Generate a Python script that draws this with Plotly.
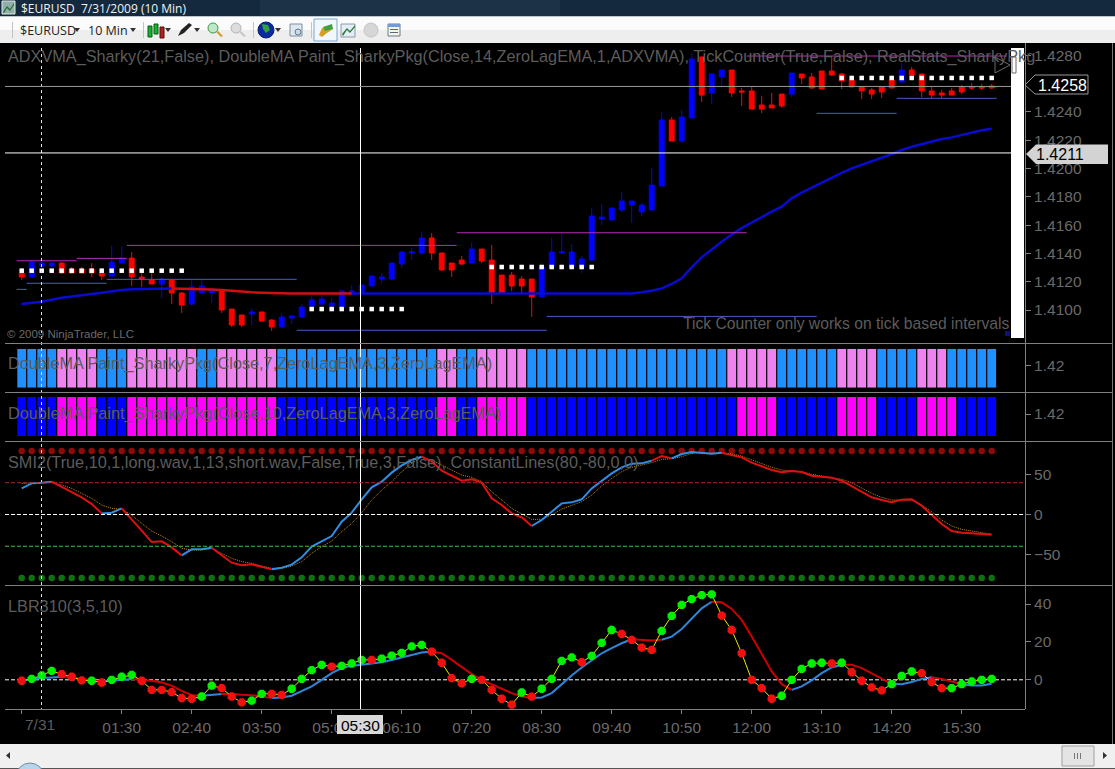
from __future__ import annotations

import plotly.graph_objects as go

WIDTH = 1115
HEIGHT = 769
FONT = "Liberation Sans"
TEXT_GREY = "#5c5c5c"
AXIS_GREY = "#808080"

open_price = [
    1.41261, 1.41233, 1.41311, 1.41311, 1.41332, 1.41290, 1.41290, 1.41290, 1.41261, 1.41240,
    1.41332, 1.41367, 1.41233, 1.41212, 1.41184, 1.41212, 1.41120, 1.41042, 1.41120, 1.41120,
    1.41141, 1.41007, 1.40965, 1.40972, 1.40986, 1.40929, 1.40880, 1.40943, 1.40951, 1.41028,
    1.41042, 1.41028, 1.41021, 1.41113, 1.41120, 1.41170, 1.41219, 1.41219, 1.41325, 1.41403,
    1.41403, 1.41509, 1.41403, 1.41332, 1.41353, 1.41332, 1.41431, 1.41353, 1.41247, 1.41247,
    1.41219, 1.41219, 1.41092, 1.41304, 1.41403, 1.41304, 1.41304, 1.41353, 1.41643, 1.41636,
    1.41707, 1.41742, 1.41693, 1.41707, 1.41876, 1.42343, 1.42194, 1.42357, 1.42788, 1.42534,
    1.42647, 1.42696, 1.42548, 1.42548, 1.42449, 1.42449, 1.42526, 1.42526, 1.42668, 1.42647,
    1.42689, 1.42689, 1.42668, 1.42625, 1.42576, 1.42555, 1.42576, 1.42625, 1.42611, 1.42696,
    1.42668, 1.42548, 1.42534, 1.42548, 1.42576, 1.42576, 1.42576, 1.42583,
]
high_price = [
    1.41297, 1.41353, 1.41353, 1.41339, 1.41339, 1.41304, 1.41304, 1.41332, 1.41297, 1.41452,
    1.41452, 1.41410, 1.41269, 1.41261, 1.41233, 1.41212, 1.41127, 1.41219, 1.41212, 1.41155,
    1.41148, 1.41007, 1.40965, 1.41014, 1.40986, 1.40936, 1.40979, 1.40965, 1.41042, 1.41099,
    1.41099, 1.41085, 1.41141, 1.41177, 1.41177, 1.41247, 1.41261, 1.41332, 1.41410, 1.41438,
    1.41551, 1.41544, 1.41403, 1.41332, 1.41382, 1.41481, 1.41431, 1.41459, 1.41247, 1.41269,
    1.41240, 1.41219, 1.41332, 1.41509, 1.41544, 1.41466, 1.41382, 1.41721, 1.41749, 1.41721,
    1.41834, 1.41770, 1.41756, 1.42004, 1.42399, 1.42364, 1.42413, 1.42816, 1.42788, 1.42668,
    1.42696, 1.42696, 1.42569, 1.42576, 1.42512, 1.42534, 1.42526, 1.42675, 1.42668, 1.42675,
    1.42689, 1.42788, 1.42675, 1.42632, 1.42576, 1.42569, 1.42576, 1.42625, 1.42746, 1.42717,
    1.42668, 1.42576, 1.42555, 1.42569, 1.42590, 1.42604, 1.42597, 1.42597,
]
low_price = [
    1.41212, 1.41233, 1.41304, 1.41304, 1.41254, 1.41254, 1.41254, 1.41233, 1.41212, 1.41240,
    1.41332, 1.41170, 1.41163, 1.41184, 1.41085, 1.41042, 1.40979, 1.41035, 1.41113, 1.41049,
    1.40979, 1.40880, 1.40880, 1.40894, 1.40915, 1.40852, 1.40873, 1.40901, 1.40943, 1.41021,
    1.41042, 1.41021, 1.41021, 1.41106, 1.41106, 1.41170, 1.41184, 1.41212, 1.41297, 1.41353,
    1.41389, 1.41353, 1.41276, 1.41233, 1.41318, 1.41332, 1.41332, 1.41042, 1.41120, 1.41134,
    1.41120, 1.40951, 1.41092, 1.41304, 1.41403, 1.41304, 1.41261, 1.41346, 1.41601, 1.41629,
    1.41693, 1.41615, 1.41664, 1.41707, 1.41876, 1.42194, 1.42180, 1.42357, 1.42470, 1.42456,
    1.42576, 1.42505, 1.42442, 1.42420, 1.42392, 1.42428, 1.42428, 1.42505, 1.42597, 1.42562,
    1.42562, 1.42654, 1.42562, 1.42576, 1.42491, 1.42491, 1.42498, 1.42569, 1.42611, 1.42661,
    1.42505, 1.42498, 1.42498, 1.42519, 1.42526, 1.42555, 1.42555, 1.42562,
]
close_price = [
    1.41233, 1.41339, 1.41332, 1.41332, 1.41261, 1.41261, 1.41261, 1.41261, 1.41240, 1.41339,
    1.41367, 1.41233, 1.41219, 1.41184, 1.41219, 1.41120, 1.41035, 1.41163, 1.41170, 1.41141,
    1.41000, 1.40894, 1.40894, 1.40986, 1.40922, 1.40880, 1.40951, 1.40958, 1.41021, 1.41071,
    1.41078, 1.41049, 1.41134, 1.41134, 1.41177, 1.41240, 1.41233, 1.41332, 1.41410, 1.41410,
    1.41509, 1.41403, 1.41283, 1.41283, 1.41325, 1.41431, 1.41346, 1.41120, 1.41120, 1.41170,
    1.41170, 1.41092, 1.41304, 1.41410, 1.41410, 1.41410, 1.41360, 1.41664, 1.41657, 1.41721,
    1.41770, 1.41770, 1.41742, 1.41883, 1.42343, 1.42194, 1.42364, 1.42774, 1.42519, 1.42668,
    1.42696, 1.42534, 1.42541, 1.42420, 1.42420, 1.42428, 1.42442, 1.42675, 1.42640, 1.42569,
    1.42562, 1.42661, 1.42618, 1.42576, 1.42548, 1.42526, 1.42541, 1.42569, 1.42696, 1.42661,
    1.42548, 1.42519, 1.42519, 1.42519, 1.42541, 1.42569, 1.42569, 1.42569,
]
bars = list(range(len(close_price)))

adxvma = [
    1.41042, 1.41049, 1.41059, 1.41072, 1.41087, 1.41095, 1.41106, 1.41113, 1.41122, 1.41134,
    1.41141, 1.41146, 1.41148, 1.41151, 1.41153, 1.41153, 1.41152, 1.41151, 1.41148, 1.41145,
    1.41141, 1.41134, 1.41129, 1.41125, 1.41122, 1.41119, 1.41117, 1.41117, 1.41117, 1.41117,
    1.41117, 1.41117, 1.41117, 1.41117, 1.41117, 1.41117, 1.41117, 1.41117, 1.41117, 1.41117,
    1.41117, 1.41117, 1.41117, 1.41117, 1.41117, 1.41117, 1.41117, 1.41117, 1.41117, 1.41117,
    1.41117, 1.41117, 1.41117, 1.41117, 1.41117, 1.41117, 1.41117, 1.41117, 1.41117, 1.41117,
    1.41117, 1.41117, 1.41125, 1.41136, 1.41153, 1.41184, 1.41224, 1.41302, 1.41372, 1.41429,
    1.41483, 1.41534, 1.41579, 1.41617, 1.41659, 1.41695, 1.41730, 1.41789, 1.41829, 1.41864,
    1.41900, 1.41938, 1.41970, 1.42001, 1.42025, 1.42048, 1.42076, 1.42102, 1.42131, 1.42154,
    1.42173, 1.42189, 1.42208, 1.42220, 1.42237, 1.42256, 1.42270, 1.42281,
]
adxvma_red_runs = [(15, 33)]
adxvma_blue_runs = [(0, 15), (33, 97)]

# first bar, last bar, price
high_levels = [(-0.5, 5.5, 1.41348), (5.5, 10.5, 1.41365), (10.5, 43.5, 1.41457),
               (43.5, 72.5, 1.41546), (72.5, 98.5, 1.42795)]
low_levels = [(-0.5, 0.5, 1.41146), (0.5, 8.5, 1.41189), (8.5, 27.5, 1.41217),
              (27.5, 52.5, 1.40857), (52.5, 79.5, 1.40955), (79.5, 87.5, 1.42390),
              (87.5, 97.5, 1.42496)]
stat_dots = [(0, 16, 1.41278), (29, 38, 1.41007), (47, 57, 1.41304), (82, 97, 1.42640)]

last_price = 1.4258
cross_price = 1.4211
price_ticks = [1.4100, 1.4120, 1.4140, 1.4160, 1.4180, 1.4200, 1.4220, 1.4240, 1.4280]

fast_paint_runs = [(4, "up"), (4, "down"), (3, "up"), (7, "down"), (2, "up"), (6, "down"), (16, "up"),
                   (2, "down"), (2, "up"), (5, "down"), (20, "up"), (5, "down"), (6, "up"), (4, "down"),
                   (4, "up"), (3, "down"), (5, "up")]
slow_paint_runs = [(4, "up"), (4, "down"), (3, "up"), (15, "down"), (16, "up"), (2, "down"), (2, "up"),
                   (5, "down"), (21, "up"), (4, "down"), (6, "up"), (4, "down"), (4, "up"), (4, "down"),
                   (4, "up")]
paint_base = 1.4156
paint_height = 0.0078

smi_main = [
    32.9, 39.2, 40.1, 41.3, 35.0, 28.7, 21.6, 13.2, 1.4, 2.3,
    7.7, -7.0, -20.4, -34.7, -33.8, -41.4, -51.5, -43.9, -43.9, -41.8,
    -51.0, -60.7, -64.0, -62.8, -65.7, -69.1, -67.0, -63.2, -54.0, -40.5,
    -33.4, -27.1, -9.1, 2.3, 19.1, 34.2, 41.3, 52.7, 61.9, 68.6,
    72.8, 66.5, 55.2, 48.5, 42.6, 44.3, 40.1, 20.3, 11.9, 1.4,
    -3.6, -14.5, -7.0, 3.5, 14.0, 15.3, 19.1, 32.9, 42.6, 51.8,
    59.4, 64.0, 64.4, 67.8, 73.6, 70.7, 76.2, 78.7, 77.8, 76.6,
    77.8, 75.3, 72.0, 65.3, 60.2, 56.0, 53.1, 54.8, 53.5, 48.9,
    47.6, 46.4, 42.6, 35.9, 28.7, 21.6, 18.2, 15.3, 18.7, 19.1,
    11.1, -0.7, -12.0, -20.8, -22.9, -23.7, -24.2, -25.4,
]
smi_signal = [
    39.2, 40.1, 40.1, 40.1, 37.1, 32.9, 26.6, 20.3, 11.9, 7.7,
    6.5, -0.7, -11.2, -20.8, -27.1, -34.2, -42.6, -44.7, -44.7, -42.6,
    -48.9, -55.2, -59.4, -61.5, -64.9, -67.8, -67.8, -64.9, -59.4, -48.9,
    -40.5, -33.4, -21.6, -11.2, 2.3, 18.2, 30.8, 41.3, 53.9, 64.4,
    72.0, 68.6, 62.3, 56.0, 49.7, 46.8, 41.3, 28.7, 18.2, 7.7,
    0.6, -6.1, -6.1, -0.7, 6.9, 11.1, 16.1, 24.5, 35.9, 45.5,
    53.9, 59.4, 62.3, 65.3, 69.5, 70.3, 72.8, 77.0, 77.8, 77.0,
    77.8, 76.2, 73.6, 68.6, 63.6, 59.4, 56.0, 55.2, 53.9, 50.6,
    48.5, 46.8, 44.3, 40.1, 32.9, 26.6, 21.6, 18.2, 18.2, 18.2,
    11.9, 3.5, -7.0, -14.5, -18.7, -21.2, -22.9, -24.6,
]
smi_up_runs = [(0, 3), (8, 10), (16, 19), (25, 40), (51, 63), (65, 70)]
smi_down_runs = [(3, 8), (10, 16), (19, 25), (40, 51), (63, 65), (70, 97)]
smi_upper_dots = [80] * len(bars)
smi_lower_dots = [-80] * len(bars)
smi_ticks = [-50, 0, 50]

lbr_fast = [
    -0.5, 0.5, 2.3, 4.7, 3.0, 1.6, -0.3, -0.5, -1.4, 0.0,
    1.6, 2.6, -0.5, -5.3, -5.3, -6.5, -9.6, -10.0, -8.8, -3.1,
    -4.4, -8.8, -11.9, -11.0, -7.4, -7.4, -7.9, -4.7, 0.5, 5.1,
    7.9, 7.0, 7.4, 8.6, 10.5, 10.5, 11.2, 12.8, 14.2, 17.6,
    18.4, 14.9, 9.0, 0.9, -1.9, 0.5, 0.0, -5.3, -10.0, -13.1,
    -6.7, -8.9, -4.7, 0.5, 10.0, 11.8, 9.3, 12.6, 19.5, 26.3,
    24.2, 21.1, 17.0, 15.8, 25.8, 33.7, 39.5, 42.6, 44.7, 45.1,
    33.9, 26.3, 14.0, 0.0, -4.4, -10.0, -8.4, 0.0, 5.8, 8.6,
    9.0, 8.6, 9.0, 4.0, -0.5, -4.0, -5.6, -2.3, 2.1, 4.4,
    3.5, -1.2, -4.4, -4.4, -2.3, -0.9, 0.0, 0.5,
]
lbr_fast_rising = [
    0, 1, 1, 1, 0, 0, 0, 1, 0, 1,
    1, 1, 0, 0, 0, 0, 0, 0, 1, 1,
    0, 0, 0, 1, 1, 0, 0, 1, 1, 1,
    1, 0, 1, 1, 1, 0, 1, 1, 1, 1,
    1, 0, 0, 0, 0, 1, 0, 0, 0, 0,
    1, 0, 1, 1, 1, 1, 0, 1, 1, 1,
    0, 0, 0, 0, 1, 1, 1, 1, 1, 1,
    0, 0, 0, 0, 0, 0, 1, 1, 1, 1,
    1, 0, 1, 0, 0, 0, 0, 1, 1, 1,
    0, 0, 0, 1, 1, 1, 1, 1,
]
lbr_slow = [
    -0.3, 0.4, 0.9, 1.2, 1.6, 1.2, 0.4, -0.3, -0.9, -0.5,
    0.0, 0.4, 0.0, -0.5, -1.4, -3.1, -5.8, -8.1, -8.4, -8.1,
    -7.5, -7.5, -7.9, -8.1, -8.8, -9.6, -9.3, -8.4, -5.8, -3.5,
    0.0, 3.5, 6.2, 7.4, 7.9, 8.4, 9.3, 10.5, 11.8, 13.2,
    14.4, 14.9, 14.0, 10.5, 6.5, 3.0, 0.0, -2.3, -4.7, -7.0,
    -8.8, -9.6, -9.3, -7.0, -2.3, 2.3, 6.5, 10.4, 14.0, 16.7,
    19.3, 21.4, 21.2, 20.7, 21.1, 22.8, 26.8, 32.5, 37.7, 41.2,
    40.9, 37.4, 31.6, 22.8, 13.2, 4.4, -2.3, -5.3, -3.5, -0.3,
    3.5, 6.5, 7.9, 7.9, 6.2, 3.5, 0.5, -2.1, -2.3, -1.2,
    0.5, 1.4, 0.5, -0.9, -2.3, -3.0, -3.0, -2.1,
]
lbr_up_runs = [(0, 4), (8, 11), (18, 20), (25, 41), (51, 61), (64, 69), (77, 82), (87, 91), (94, 97)]
lbr_down_runs = [(4, 8), (11, 18), (20, 25), (41, 51), (61, 64), (69, 77), (82, 87), (91, 94)]
lbr_ticks = [0, 20, 40]

time_tick_bars = [0, 10, 17, 24, 31, 38, 45, 52, 59, 66, 73, 80, 87, 94]
time_tick_labels = ["", "01:30", "02:40", "03:50", "05:00", "06:10", "07:20", "08:30",
                    "09:40", "10:50", "12:00", "13:10", "14:20", "15:30"]


def px(x: float) -> float:
    return x / WIDTH


def py(y: float) -> float:
    return 1 - y / HEIGHT


def ydomain(top: float, bottom: float) -> list[float]:
    return [py(bottom), py(top)]


def rect(x0, y0, x1, y1, fill, line=None, width=1) -> dict:
    return dict(type="rect", xref="paper", yref="paper", x0=px(x0), x1=px(x1), y0=py(y1), y1=py(y0),
                fillcolor=fill, line=dict(color=line or fill, width=width if line else 0), layer="above")


def hline(x0, x1, y, color=AXIS_GREY, width=1, dash="solid") -> dict:
    return dict(type="line", xref="paper", yref="paper", x0=px(x0), x1=px(x1), y0=py(y), y1=py(y),
                line=dict(color=color, width=width, dash=dash), layer="above")


def vline(x, y0, y1, color=AXIS_GREY, width=1, dash="solid") -> dict:
    return dict(type="line", xref="paper", yref="paper", x0=px(x), x1=px(x), y0=py(y0), y1=py(y1),
                line=dict(color=color, width=width, dash=dash), layer="above")


def poly(points, fill, line=None, width=1) -> dict:
    path = "M " + " L ".join(f"{px(x):.5f},{py(y):.5f}" for x, y in points) + " Z"
    return dict(type="path", xref="paper", yref="paper", path=path, fillcolor=fill,
                line=dict(color=line or fill, width=width if line else 0), layer="above")


def disc(cx, cy, r, fill, line=None) -> dict:
    return dict(type="circle", xref="paper", yref="paper", x0=px(cx - r), x1=px(cx + r), y0=py(cy + r), y1=py(cy - r),
                fillcolor=fill, line=dict(color=line or fill, width=1 if line else 0), layer="above")


def label(text, x, y, size=15.5, color=TEXT_GREY, anchor="left", family=FONT) -> dict:
    return dict(text=text, x=px(x), y=py(y), xref="paper", yref="paper", showarrow=False, xanchor=anchor,
                yanchor="middle", font=dict(family=family, size=size, color=color), borderpad=0, borderwidth=0)


def add_run_lines(fig, values, runs, color, width, yaxis) -> None:
    for first, last in runs:
        fig.add_trace(go.Scatter(x=bars[first:last + 1], y=values[first:last + 1], mode="lines", yaxis=yaxis,
                                 line=dict(color=color, width=width), showlegend=False))


def add_levels(fig, levels, color) -> None:
    for first, last, price in levels:
        fig.add_trace(go.Scatter(x=[first, last], y=[price, price], mode="lines", yaxis="y",
                                 line=dict(color=color, width=1), showlegend=False))


def expand_runs(runs, colors) -> list[str]:
    out = []
    for count, state in runs:
        out += [colors[state]] * count
    return out


def dropdown(x, y) -> dict:
    return poly([(x - 3, y - 2), (x + 3, y - 2), (x, y + 2)], "#333333")


def window_chrome() -> list[dict]:
    shapes = [
        rect(0, 0, WIDTH, 16, "#14293d"),
        rect(260, 0, 560, 16, "#1c3246"),
        hline(0, WIDTH, 16.5, "#b9c6cf"),
        rect(0, 17, WIDTH, 30, "#fbfbfb"),
        rect(0, 30, WIDTH, 43, "#eeeeee"),
        rect(2, 1, 15, 14, "#8fb0a8", "#dfe8e4"),
        poly([(3, 12), (7, 6), (10, 9), (14, 3), (14, 5), (10, 11), (7, 8), (4, 13)], "#2c6b3a"),
        vline(12.5, 22, 38, "#c4c4c4"),
        vline(143.5, 22, 38, "#c4c4c4"),
        vline(253.5, 22, 38, "#c4c4c4"),
        vline(311.5, 22, 38, "#c4c4c4"),
        dropdown(77, 30), dropdown(133, 30), dropdown(168, 30), dropdown(197, 30), dropdown(278, 30),
        # candle icon
        rect(148, 26, 152, 37, "#18b030", "#0a5a18"),
        rect(154, 24, 158, 34, "#18b030", "#0a5a18"),
        rect(160, 27, 164, 38, "#b02020", "#5a0a0a"),
        # pencil
        poly([(178, 36), (181, 30), (189, 23), (192, 25), (184, 33)], "#222222"),
        # zoom glasses
        disc(213, 28, 5, "#bfe8c8", "#3a9a50"),
        poly([(216, 32), (218, 31), (223, 36), (221, 37)], "#d89a30"),
        disc(236, 28, 5, "#dcdcdc", "#b4b4b4"),
        poly([(239, 32), (241, 31), (246, 36), (244, 37)], "#c8c8c8"),
        # globe
        disc(266, 30, 8, "#0a2aa0", "#082070"),
        poly([(262, 24), (268, 25), (270, 30), (266, 33), (263, 29)], "#30a040"),
        # report
        rect(290, 24, 302, 36, "#dfe7f0", "#7f8fa0"),
        disc(298, 32, 3, "#c8d8e8", "#6a7a8a"),
        # active button
        rect(314, 19, 337, 41, "#f2f7fc", "#7aa7d0"),
        poly([(319, 35), (322, 28), (331, 25), (333, 29), (327, 33), (322, 37)], "#d8a020"),
        poly([(323, 27), (332, 24), (333, 29), (325, 31)], "#40a040"),
        # indicators, grey disc, table
        rect(341, 24, 355, 37, "#e4ecf4", "#8a9aaa"),
        poly([(342, 34), (347, 28), (350, 31), (355, 25), (355, 27), (350, 33), (347, 30), (343, 36)], "#2c7a40"),
        disc(371, 30, 7, "#d6d6d6", "#c4c4c4"),
        rect(388, 24, 400, 36, "#f4f4ea", "#6a7a8a"),
        rect(388, 24, 400, 27, "#6f9fd0"),
        hline(390, 398, 29.5, "#5a6a7a"), hline(390, 398, 32.5, "#5a6a7a"),
        # bottom scrollbar
        rect(0, 744, WIDTH, 768, "#f0f0f0"),
        hline(0, WIDTH, 768.5, "#555555"),
        poly([(10, 752), (6, 755.5), (10, 759)], "#333333"),
        rect(1062, 746, 1094, 766, "#e4e4e4", "#a0a0a0"),
        vline(1074.5, 753, 759, "#777777"), vline(1077.5, 753, 759, "#777777"), vline(1080.5, 753, 759, "#777777"),
        poly([(1103, 752), (1107, 755.5), (1103, 759)], "#333333"),
        disc(30, 777, 14, "#b8d4ea", "#6f8fa8"),
        vline(1112.5, 43, 744, "#777777"),
    ]
    return shapes


def chart_overlays() -> list[dict]:
    shapes = [
        rect(1011, 48, 1024, 338, "#ffffff"),
        poly([(995, 57), (1010, 65), (995, 73)], "rgba(0,0,0,0)", "#6a6a6a"),
        rect(1012, 57, 1016, 73, "rgba(0,0,0,0)", "#6a6a6a"),
        rect(1005, 331, 1010, 336, "#10107a"),
        vline(360.5, 48, 709, "#ffffff"),
        vline(41.5, 48, 709, "#e8e88a", 1, "3px,3px"),
    ]
    # last price and crosshair price
    for level, color in ((last_price, "#9a9a9a"), (cross_price, "#ffffff")):
        shapes.append(dict(type="line", xref="paper", yref="y", x0=px(5), x1=px(1011), y0=level, y1=level,
                           line=dict(color=color, width=1), layer="above"))
    for y in (343.5, 392.5, 441.5, 585.5):
        shapes.append(hline(5, 1113, y))
    shapes.append(vline(1025.5, 43, 709))
    shapes.append(hline(5, 1025, 709.5))
    # SMI constant lines and LBR zero
    for level, color in ((40, "#b02828"), (0, "#ffffff"), (-40, "#40c040")):
        shapes.append(dict(type="line", xref="paper", yref="y4", x0=px(5), x1=px(1025), y0=level, y1=level,
                           line=dict(color=color, width=1, dash="4px,2px"), layer="above"))
    shapes.append(dict(type="line", xref="paper", yref="y5", x0=px(5), x1=px(1025), y0=0, y1=0,
                       line=dict(color="#ffffff", width=1, dash="4px,2px"), layer="below"))
    # price flags
    shapes.append(poly([(1025, 85), (1035, 75), (1088, 75), (1088, 94), (1035, 94)], "#000000", "#9a9a9a"))
    shapes.append(poly([(1026, 154), (1036, 144.5), (1108, 144.5), (1108, 164), (1036, 164)], "#d3d3d3"))
    shapes.append(rect(337, 715, 383, 734, "#d8d8d8"))
    return shapes


def chart_labels() -> list[dict]:
    return [
        label("$EURUSD  7/31/2009 (10 Min)", 21, 8, 12, "#f2f2f2", family="Open Sans"),
        label("$EURUSD", 20, 30, 12.5, "#222222", family="Open Sans"),
        label("10 Min", 88, 30, 12.5, "#222222", family="Open Sans"),
        label("ADXVMA_Sharky(21,False), DoubleMA Paint_SharkyPkg(Close,14,ZeroLagEMA,1,ADXVMA), "
              "TickCounter(True,False), RealStats_SharkyPkg", 8, 57, 16.25),
        label("© 2009 NinjaTrader, LLC", 7, 334, 11.5, "#6a6a6a"),
        label("Tick Counter only works on tick based intervals", 683, 323, 15.7),
        label("DoubleMA Paint_SharkyPkg(Close,7,ZeroLagEMA,3,ZeroLagEMA)", 8, 363, 16.25),
        label("DoubleMA Paint_SharkyPkg(Close,10,ZeroLagEMA,3,ZeroLagEMA)", 8, 413, 16.25),
        label("SMI2(True,10,1,long.wav,1,13,short.wav,False,True,3,False), ConstantLines(80,-80,0,0)", 8, 462, 16.25),
        label("LBR310(3,5,10)", 8, 606, 16.25),
        label("7/31", 40, 724, 15.5, TEXT_GREY, "center"),
        label("1.4258", 1062, 85, 16, "#ffffff", "center"),
        label("1.4211", 1060, 154, 16, "#000000", "center"),
        label("05:30", 360, 725, 15.5, "#000000", "center"),
    ]


def build_figure() -> go.Figure:
    fig = go.Figure()

    add_run_lines(fig, adxvma, adxvma_blue_runs, "#0a0ad0", 2.5, "y")
    add_run_lines(fig, adxvma, adxvma_red_runs, "#d01010", 2.5, "y")
    add_levels(fig, high_levels, "#b52db5")
    add_levels(fig, low_levels, "#4a5ad0")

    fig.add_trace(go.Candlestick(
        x=bars, open=open_price, high=high_price, low=low_price, close=close_price, yaxis="y",
        increasing=dict(line=dict(color="#0000ff", width=1), fillcolor="#0000ff"),
        decreasing=dict(line=dict(color="#ff0000", width=1), fillcolor="#ff0000"),
        whiskerwidth=0, showlegend=False,
    ))
    for first, last, price in stat_dots:
        dot_bars = bars[first:last + 1]
        fig.add_trace(go.Scatter(x=dot_bars, y=[price] * len(dot_bars), mode="markers", yaxis="y",
                                 marker=dict(symbol="square", size=4.5, color="#ffffff"), showlegend=False))

    fast_colors = {"up": "#1e90ff", "down": "#ee82ee"}
    slow_colors = {"up": "#0000ff", "down": "#ff00ff"}
    fig.add_trace(go.Bar(x=bars, y=[paint_height] * len(bars), base=paint_base, width=0.88, yaxis="y2",
                         marker=dict(color=expand_runs(fast_paint_runs, fast_colors), line=dict(width=0)),
                         showlegend=False))
    fig.add_trace(go.Bar(x=bars, y=[paint_height] * len(bars), base=paint_base, width=0.88, yaxis="y3",
                         marker=dict(color=expand_runs(slow_paint_runs, slow_colors), line=dict(width=0)),
                         showlegend=False))

    fig.add_trace(go.Scatter(x=bars, y=smi_upper_dots, mode="markers", yaxis="y4",
                             marker=dict(size=6.5, color="#8b0a0a"), showlegend=False))
    fig.add_trace(go.Scatter(x=bars, y=smi_lower_dots, mode="markers", yaxis="y4",
                             marker=dict(size=6.5, color="#0f700f"), showlegend=False))
    fig.add_trace(go.Scatter(x=bars, y=smi_signal, mode="lines", yaxis="y4",
                             line=dict(color="#c08a20", width=1, dash="1px,1px"), showlegend=False))
    add_run_lines(fig, smi_main, smi_up_runs, "#2f8fe6", 2, "y4")
    add_run_lines(fig, smi_main, smi_down_runs, "#e01010", 2, "y4")

    add_run_lines(fig, lbr_slow, lbr_up_runs, "#2f86d8", 2, "y5")
    add_run_lines(fig, lbr_slow, lbr_down_runs, "#cc0000", 2, "y5")
    fig.add_trace(go.Scatter(x=bars, y=lbr_fast, mode="lines+markers", yaxis="y5",
                             line=dict(color="#e8e800", width=1),
                             marker=dict(symbol="octagon", size=9,
                                         color=["#00f000" if up else "#f01010" for up in lbr_fast_rising]),
                             showlegend=False))

    tick_font = dict(family=FONT, size=15.5, color="#6a6a6a")
    yaxis_style = dict(side="right", anchor="x", showgrid=False, zeroline=False, showline=False, ticks="outside",
                       ticklen=5, tickcolor=AXIS_GREY, tickfont=tick_font, fixedrange=True)

    fig.update_layout(
        width=WIDTH, height=HEIGHT, autosize=False,
        margin=dict(l=0, r=0, t=0, b=0),
        paper_bgcolor="#000000", plot_bgcolor="#000000",
        showlegend=False, hovermode=False, dragmode=False,
        xaxis=dict(domain=[px(5), px(1025)], range=[-1.67, 100.33], anchor="y5", showgrid=False, zeroline=False,
                   rangeslider=dict(visible=False), tickmode="array", tickvals=time_tick_bars,
                   ticktext=time_tick_labels, ticks="outside", ticklen=4, tickcolor=AXIS_GREY, tickfont=tick_font,
                   fixedrange=True),
        yaxis=dict(domain=ydomain(43, 343), range=[1.40767, 1.42887], tickmode="array", tickvals=price_ticks,
                   tickformat=".4f", **yaxis_style),
        yaxis2=dict(domain=ydomain(344, 392), range=[1.4147, 1.4244], tickmode="array", tickvals=[1.42],
                    tickformat=".2f", **yaxis_style),
        yaxis3=dict(domain=ydomain(393, 441), range=[1.4146, 1.4242], tickmode="array", tickvals=[1.42],
                    tickformat=".2f", **yaxis_style),
        yaxis4=dict(domain=ydomain(442, 585), range=[-88.8, 91.3], tickmode="array", tickvals=smi_ticks,
                    **yaxis_style),
        yaxis5=dict(domain=ydomain(586, 709), range=[-15.4, 49.5], tickmode="array", tickvals=lbr_ticks,
                    **yaxis_style),
        shapes=chart_overlays() + window_chrome(),
        annotations=chart_labels(),
    )
    return fig


def main() -> None:
    fig = build_figure()
    # the page's default body margin would push the window chrome 8px in
    fig.write_html("out.html", config={"displayModeBar": False},
                   post_script="document.body.style.margin='0';document.body.style.background='#000';")


if __name__ == "__main__":
    main()
